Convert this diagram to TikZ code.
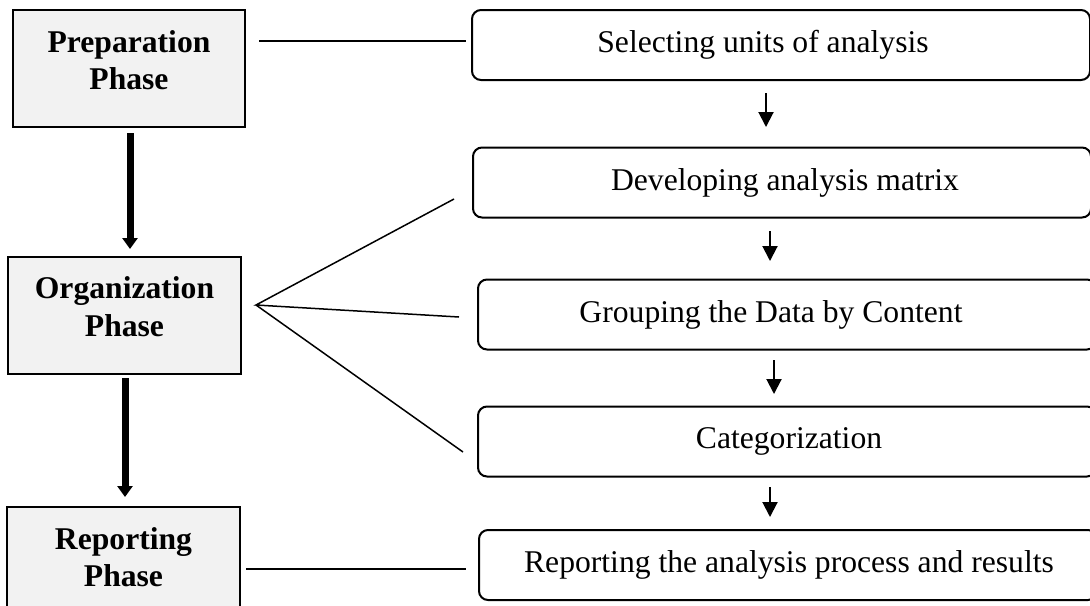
\documentclass[tikz,border=0pt]{standalone}
\usepackage{fontspec}
\setmainfont{Liberation Serif}
\usetikzlibrary{arrows.meta}

\tikzset{
  phasebox/.style={draw, line width=0.4mm, fill=gray!10, minimum width=46.4mm, minimum height=23.4mm, text depth=3.4mm, align=center, font=\fontsize{18}{21.5}\selectfont\bfseries},
  stepbox/.style={draw, line width=0.4mm, rounded corners=1.8mm, minimum width=123.6mm, minimum height=14mm},
  steptext/.style={font=\fontsize{18}{21}\selectfont},
  link/.style={line width=0.3mm},
  bigarrow/.style={line width=1.4mm, -{Triangle[width=3mm,length=2.2mm]}},
  smallarrow/.style={line width=0.4mm, -{Triangle[width=3mm,length=3mm]}},
}

\begin{document}
\begin{tikzpicture}[x=0.2mm, y=-0.2mm]

\useasboundingbox (0,0) rectangle (1090,605);

\coordinate (P1) at (259,41);
\coordinate (P2) at (466,41);
\coordinate (F) at (256,305);
\coordinate (F1) at (454,199);
\coordinate (F2) at (459,317);
\coordinate (F3) at (463,452);
\coordinate (R1) at (246,569);
\coordinate (R2) at (466,569);

\coordinate (A1) at (130,133);
\coordinate (A2) at (130,249);
\coordinate (B1) at (125,378);
\coordinate (B2) at (125,497);

\coordinate (S1) at (766,93);
\coordinate (S2) at (766,127);
\coordinate (S3) at (770,231);
\coordinate (S4) at (770,261);
\coordinate (S5) at (774,360);
\coordinate (S6) at (774,394);
\coordinate (S7) at (770,487);
\coordinate (S8) at (770,517);

% left column
\node[phasebox] (prep) at (129,68.5) {Preparation\\Phase};
\node[phasebox] (org) at (124.5,315) {Organization\\Phase};
\node[phasebox] (rep) at (123.5,565.5) {Reporting\\Phase};

% right column
\node[stepbox] (sel) at (781,45) {};
\node[stepbox] (dev) at (782,182.5) {};
\node[stepbox] (grp) at (787,314.5) {};
\node[stepbox] (cat) at (787,441.5) {};
\node[stepbox] (res) at (788,565) {};

\node[steptext] (selt) at (763,45) {Selecting units of analysis};
\node[steptext] (devt) at (785,182.5) {Developing analysis matrix};
\node[steptext] (grpt) at (771,314.5) {Grouping the Data by Content};
\node[steptext] (catt) at (789,441.5) {Categorization};
\node[steptext] (rest) at (789,565) {Reporting the analysis process and results};

\draw[bigarrow] (A1) -- (A2);
\draw[bigarrow] (B1) -- (B2);

\draw[link] (P1) -- (P2);
\draw[link] (F1) -- (F) -- (F2);
\draw[link] (F) -- (F3);
\draw[link] (R1) -- (R2);

\draw[smallarrow] (S1) -- (S2);
\draw[smallarrow] (S3) -- (S4);
\draw[smallarrow] (S5) -- (S6);
\draw[smallarrow] (S7) -- (S8);

\end{tikzpicture}
\end{document}
